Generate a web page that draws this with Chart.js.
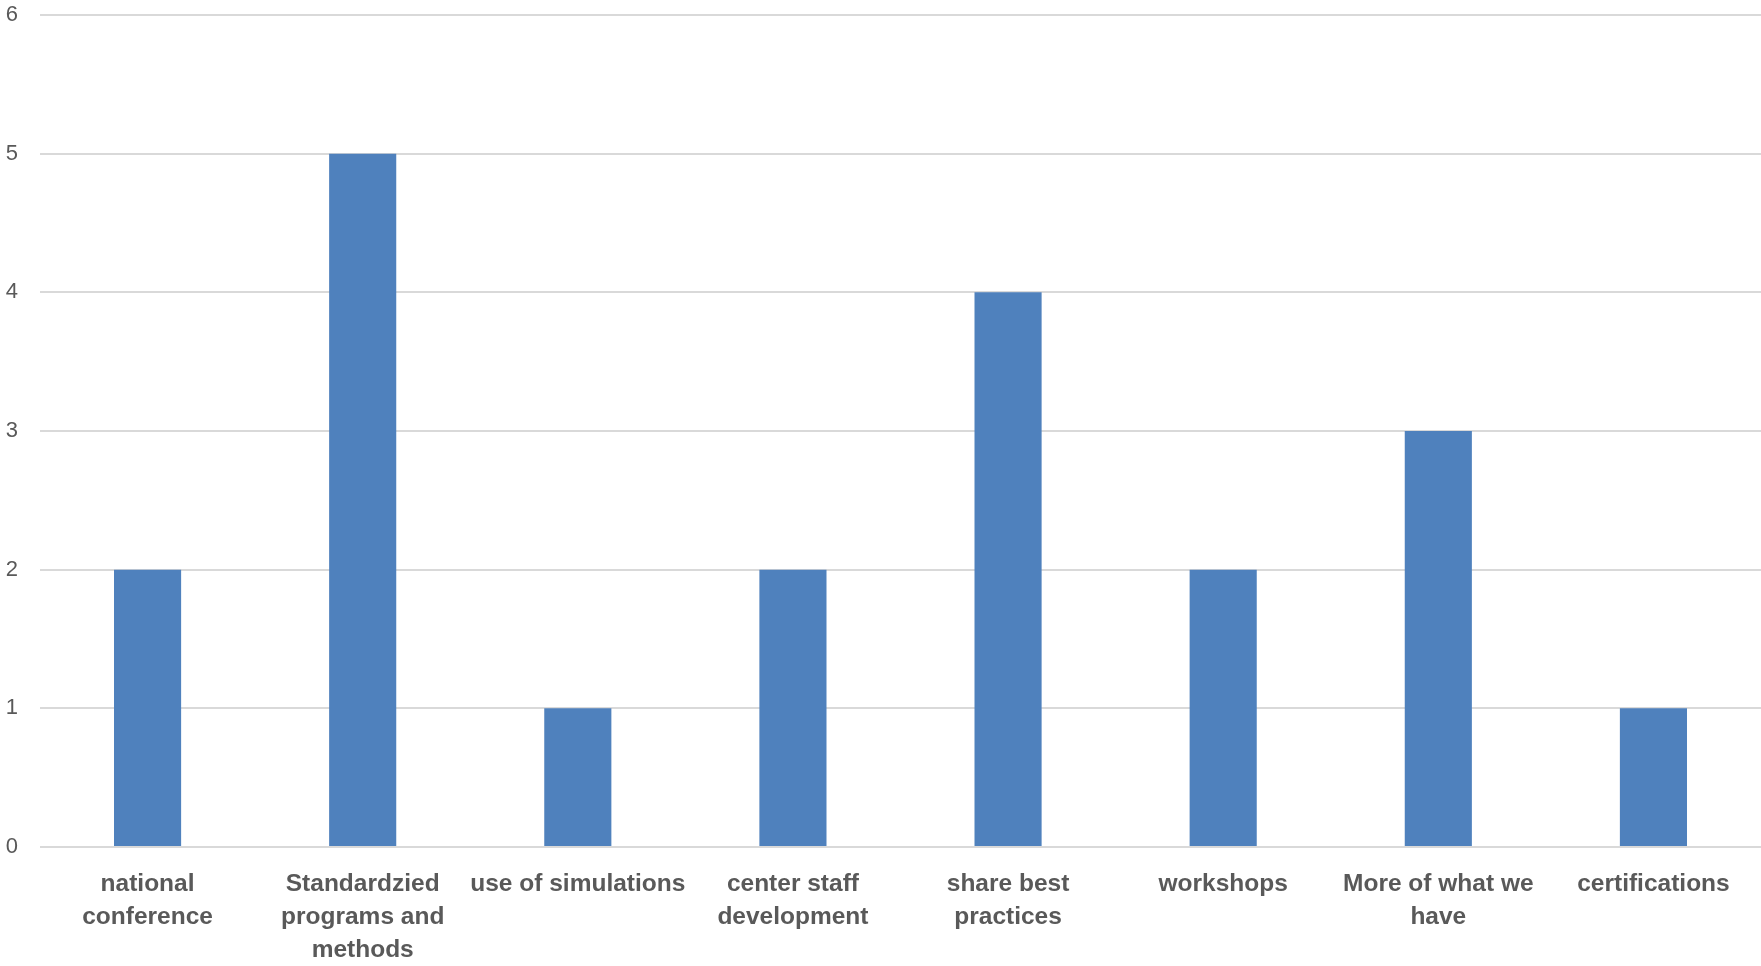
<!DOCTYPE html>
<html>
<head>
<meta charset="utf-8">
<script src="https://cdn.jsdelivr.net/npm/chart.js@4"></script>
<style>
html,body{margin:0;padding:0;background:#fff;}
#wrap{width:1761px;height:966px;position:relative;}
</style>
</head>
<body>
<div id="wrap"><canvas id="c" width="1761" height="966"></canvas></div>
<script>
const categories = [
  ["national","conference"],
  ["Standardzied","programs and","methods"],
  "use of simulations",
  ["center staff","development"],
  ["share best","practices"],
  "workshops",
  ["More of what we","have"],
  "certifications"
];
const values = [2, 5, 1, 2, 4, 2, 3, 1];
const yTicks = [0, 1, 2, 3, 4, 5, 6];

new Chart(document.getElementById('c'), {
  type: 'bar',
  data: {
    labels: categories,
    datasets: [{
      data: values,
      backgroundColor: '#4F81BD',
      borderWidth: 0,
      barPercentage: 0.312,
      categoryPercentage: 1.0
    }]
  },
  options: {
    responsive: false,
    animation: false,
    layout: { padding: { top: 15, right: 0, bottom: 0, left: 0 } },
    plugins: { legend: { display: false }, tooltip: { enabled: false } },
    scales: {
      x: {
        grid: { display: false, drawTicks: false },
        border: { display: false },
        ticks: {
          color: '#595959',
          padding: 21,
          maxRotation: 0,
          autoSkip: false,
          font: { family: '"Liberation Sans", Arial, sans-serif', size: 24.5, weight: 'bold', lineHeight: 1.35 }
        },
        afterFit: (s) => { s.height = 119; s.paddingLeft = 0; s.paddingRight = 0; }
      },
      y: {
        min: yTicks[0],
        max: yTicks[yTicks.length - 1],
        grid: { color: '#d9d9d9', lineWidth: 2, drawTicks: false },
        border: { display: false },
        ticks: {
          stepSize: 1,
          color: '#595959',
          padding: 22,
          font: { family: '"Liberation Sans Narrow", "Arial Narrow", "Liberation Sans", sans-serif', size: 22 }
        },
        afterFit: (s) => { s.width = 40; s.paddingTop = 0; s.paddingBottom = 0; }
      }
    }
  }
});
</script>
</body>
</html>
